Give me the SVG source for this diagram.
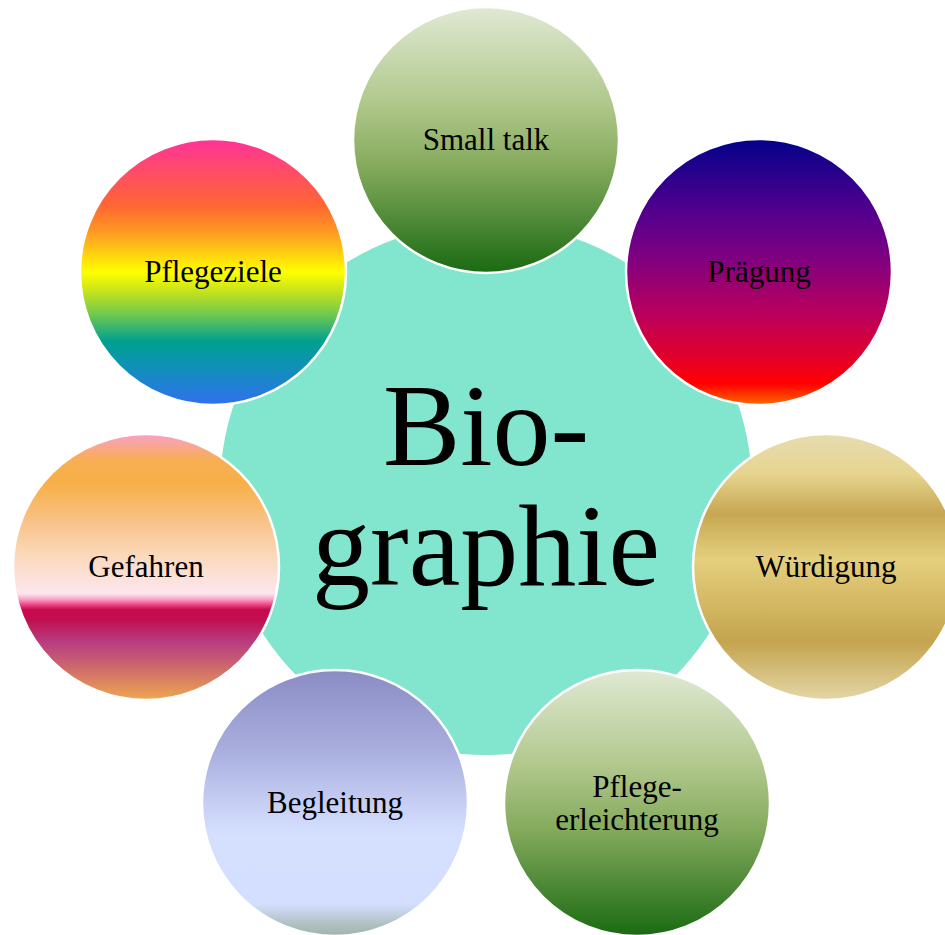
<svg xmlns="http://www.w3.org/2000/svg" width="945" height="935" viewBox="0 0 945 935">
  <defs>
    <style>
      .bubble { stroke: #ffffff; stroke-width: 2.5; }
      .label { font-family: "Liberation Serif", "Times New Roman", serif; font-size: 31px; fill: #000000; text-anchor: middle; }
      .core { font-family: "Liberation Serif", "Times New Roman", serif; font-size: 116px; fill: #000000; text-anchor: middle; }
    </style>
    <linearGradient id="gGreen" x1="0" y1="0" x2="0" y2="1">
      <stop offset="0" stop-color="#e0e9d3"/>
      <stop offset="0.35" stop-color="#b2c98e"/>
      <stop offset="0.6" stop-color="#84aa5c"/>
      <stop offset="0.8" stop-color="#4f8a38"/>
      <stop offset="1" stop-color="#1a6a12"/>
    </linearGradient>
    <linearGradient id="gPurpleRed" x1="0" y1="0" x2="0" y2="1">
      <stop offset="0" stop-color="#02028a"/>
      <stop offset="0.3" stop-color="#5a008e"/>
      <stop offset="0.45" stop-color="#800080"/>
      <stop offset="0.65" stop-color="#b8005e"/>
      <stop offset="0.82" stop-color="#e2002c"/>
      <stop offset="0.92" stop-color="#ff0000"/>
      <stop offset="1" stop-color="#ff6a00"/>
    </linearGradient>
    <linearGradient id="gGold" x1="0" y1="0" x2="0" y2="1">
      <stop offset="0" stop-color="#e6dcb0"/>
      <stop offset="0.15" stop-color="#e6d48e"/>
      <stop offset="0.3" stop-color="#c6a752"/>
      <stop offset="0.47" stop-color="#e4cf7e"/>
      <stop offset="0.6" stop-color="#d8bd68"/>
      <stop offset="0.78" stop-color="#c4a44e"/>
      <stop offset="1" stop-color="#e4d6a6"/>
    </linearGradient>
    <linearGradient id="gBlue" x1="0" y1="0" x2="0" y2="1">
      <stop offset="0" stop-color="#8a8cc4"/>
      <stop offset="0.3" stop-color="#a9aede"/>
      <stop offset="0.55" stop-color="#cdd6f9"/>
      <stop offset="0.62" stop-color="#d5dffe"/>
      <stop offset="0.88" stop-color="#d4defe"/>
      <stop offset="0.95" stop-color="#b3c2c6"/>
      <stop offset="1" stop-color="#a0b4a8"/>
    </linearGradient>
    <linearGradient id="gSunset" x1="0" y1="0" x2="0" y2="1">
      <stop offset="0" stop-color="#f8a0c8"/>
      <stop offset="0.1" stop-color="#f8ae52"/>
      <stop offset="0.19" stop-color="#f7b04a"/>
      <stop offset="0.34" stop-color="#f9c48c"/>
      <stop offset="0.45" stop-color="#fbd8b8"/>
      <stop offset="0.57" stop-color="#fce4e4"/>
      <stop offset="0.6" stop-color="#fde5ee"/>
      <stop offset="0.62" stop-color="#f8a8c8"/>
      <stop offset="0.64" stop-color="#f04c8a"/>
      <stop offset="0.66" stop-color="#c80a4c"/>
      <stop offset="0.7" stop-color="#c01050"/>
      <stop offset="0.78" stop-color="#b83c80"/>
      <stop offset="0.86" stop-color="#c86070"/>
      <stop offset="1" stop-color="#f0a850"/>
    </linearGradient>
    <linearGradient id="gRainbow" x1="0" y1="0" x2="0" y2="1">
      <stop offset="0" stop-color="#ff3399"/>
      <stop offset="0.25" stop-color="#ff6633"/>
      <stop offset="0.35" stop-color="#ff9922"/>
      <stop offset="0.5" stop-color="#ffff00"/>
      <stop offset="0.58" stop-color="#c0e020"/>
      <stop offset="0.66" stop-color="#70c850"/>
      <stop offset="0.76" stop-color="#00a090"/>
      <stop offset="0.86" stop-color="#1090b8"/>
      <stop offset="1" stop-color="#3070f0"/>
    </linearGradient>
  </defs>

  <rect width="945" height="935" fill="#ffffff"/>

  <!-- central topic -->
  <g id="biographie">
    <circle cx="486" cy="489" r="266" fill="#82e5ce"/>
    <text class="core" x="486" y="465">Bio-</text>
    <text class="core" x="486" y="585">graphie</text>
  </g>

  <!-- satellites on a ring of radius 349 around the centre -->
  <g id="small-talk">
    <circle class="bubble" cx="486" cy="140" r="133" fill="url(#gGreen)"/>
    <text class="label" x="486" y="150">Small talk</text>
  </g>
  <g id="praegung">
    <circle class="bubble" cx="759" cy="272" r="133" fill="url(#gPurpleRed)"/>
    <text class="label" x="759" y="282">Prägung</text>
  </g>
  <g id="wuerdigung">
    <circle class="bubble" cx="826" cy="567" r="133" fill="url(#gGold)"/>
    <text class="label" x="826" y="577">Würdigung</text>
  </g>
  <g id="pflegeerleichterung">
    <circle class="bubble" cx="637" cy="803" r="133" fill="url(#gGreen)"/>
    <text class="label" x="637" y="797">Pflege-</text>
    <text class="label" x="637" y="830">erleichterung</text>
  </g>
  <g id="begleitung">
    <circle class="bubble" cx="335" cy="803" r="133" fill="url(#gBlue)"/>
    <text class="label" x="335" y="813">Begleitung</text>
  </g>
  <g id="gefahren">
    <circle class="bubble" cx="146" cy="567" r="133" fill="url(#gSunset)"/>
    <text class="label" x="146" y="577">Gefahren</text>
  </g>
  <g id="pflegeziele">
    <circle class="bubble" cx="213" cy="272" r="133" fill="url(#gRainbow)"/>
    <text class="label" x="213" y="282">Pflegeziele</text>
  </g>
</svg>
